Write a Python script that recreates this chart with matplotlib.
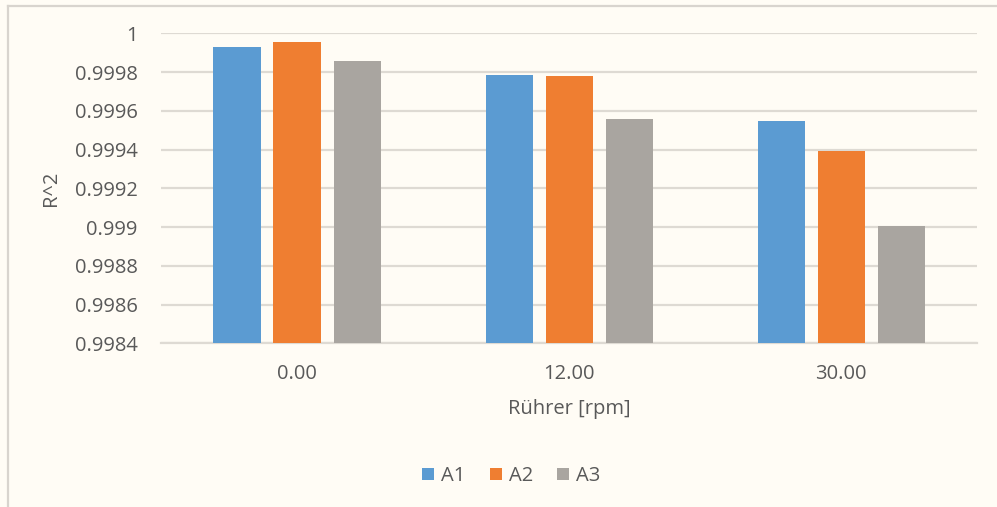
import matplotlib.pyplot as plt
from matplotlib.lines import Line2D
from matplotlib.patches import Patch
import numpy as np

# stirrer speed vs. fit quality
categories = ["0.00", "12.00", "30.00"]
series_names = ["A1", "A2", "A3"]
a1 = [0.999929, 0.999786, 0.999548]
a2 = [0.999954, 0.999781, 0.999395]
a3 = [0.999855, 0.999559, 0.999003]
y_ticks = [0.9984, 0.9986, 0.9988, 0.999, 0.9992, 0.9994, 0.9996, 0.9998, 1]

colors = ["#5B9BD2", "#EF7E31", "#A9A5A0"]
bg = "#FFFCF5"
text_col = "#595959"
grid_col = "#DEDAD3"
fs = 14.5

plt.rcParams["font.family"] = ["Open Sans", "DejaVu Sans"]

fig = plt.figure(figsize=(9.97, 5.07), dpi=100, facecolor=bg)
ax = fig.add_axes([0.1615, 0.3229, 0.8185, 0.6114], facecolor=bg)

x = np.arange(len(categories))
slot = 0.2206
width = 0.173
for i, (vals, name) in enumerate(zip([a1, a2, a3], series_names)):
    ax.bar(x + (i - 1) * slot, vals, width, color=colors[i], label=name, zorder=3)

ax.set_xlim(-0.5, 2.5)
ax.set_ylim(0.9984, 1.0)
ax.set_yticks(y_ticks)
ax.set_yticklabels(["%g" % t for t in y_ticks])
ax.set_xticks(x)
ax.set_xticklabels(categories)
ax.yaxis.grid(True, color=grid_col, linewidth=1.6, zorder=0)
for s in ax.spines.values():
    s.set_visible(False)
ax.spines["bottom"].set_visible(True)
ax.spines["bottom"].set_color(grid_col)
ax.spines["bottom"].set_linewidth(1.6)
ax.tick_params(axis="both", length=0, labelsize=fs, colors=text_col)
ax.tick_params(axis="y", pad=17)
ax.tick_params(axis="x", pad=15)

ax.set_xlabel("Rührer [rpm]", fontsize=fs, color=text_col, labelpad=11)
ax.set_ylabel("R^2", fontsize=fs, color=text_col, labelpad=10)

handles = [Patch(facecolor=c, label=n) for c, n in zip(colors, series_names)]
fig.legend(handles=handles, loc="center", bbox_to_anchor=(0.513, 0.061),
           ncol=3, frameon=False, fontsize=fs, labelcolor=text_col,
           handlelength=0.6, handleheight=0.6, handletextpad=0.35,
           columnspacing=1.2)

# outer chart frame (top and left edges)
border = "#D8D4CE"
fig.add_artist(Line2D([8 / 997, 1.0], [1 - 5.7 / 507] * 2, color=border, lw=1.6))
fig.add_artist(Line2D([8 / 997] * 2, [0, 1 - 5.7 / 507], color=border, lw=1.6))

fig.savefig("out.png", dpi=100, facecolor=bg)
